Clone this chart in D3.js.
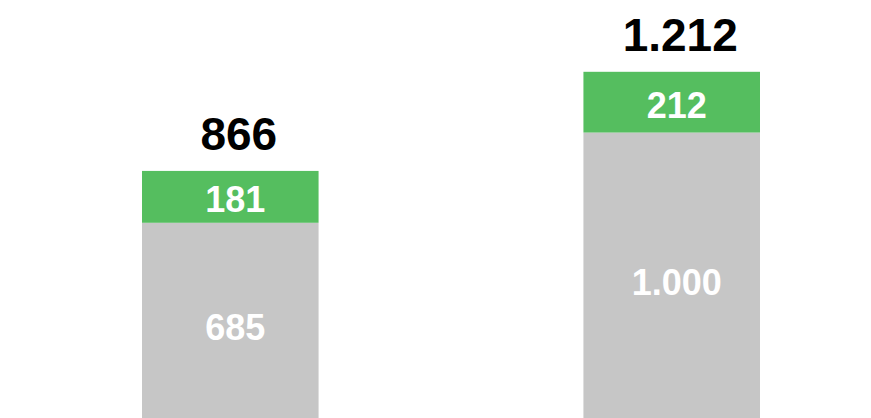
<!DOCTYPE html>
<html>
<head>
<meta charset="utf-8">
<script src="https://cdn.jsdelivr.net/npm/d3@7"></script>
<style>
  html, body { margin: 0; padding: 0; background: #fff; }
  svg { display: block; }
  text { font-family: "Liberation Sans", Arial, sans-serif; font-weight: bold; }
</style>
</head>
<body>
<div class="chart"></div>
<script>
// data
const categories = ["A", "B"]
const baseValues = [685, 1000]
const extraValues = [181, 212]

const width = 871
const height = 418

// german style numbers: 1.212
const locale = d3.formatLocale({ decimal: ",", thousands: ".", grouping: [3], currency: ["", " €"] })
const fmt = locale.format(",d")

const svg = d3.select(".chart")
  .append("svg")
  .attr("width", width)
  .attr("height", height)

const x = d3.scaleBand()
  .domain(categories)
  .range([142, 760])
  .paddingInner(0.6)
  .paddingOuter(0)

const y = d3.scaleLinear()
  .domain([0, 1212])
  .range([419, 71.8])

const rows = categories.map((c, i) => ({
  cat: c,
  base: baseValues[i],
  extra: extraValues[i],
  total: baseValues[i] + extraValues[i]
}))

const bars = svg.selectAll("g.bar")
  .data(rows)
  .join("g")
  .attr("class", "bar")

// grey part
bars.append("rect")
  .attr("x", d => x(d.cat))
  .attr("width", x.bandwidth())
  .attr("y", d => y(d.base))
  .attr("height", d => y(0) - y(d.base))
  .attr("fill", "#c6c6c6")

// green part
bars.append("rect")
  .attr("x", d => x(d.cat))
  .attr("width", x.bandwidth())
  .attr("y", d => y(d.total))
  .attr("height", d => y(d.base) - y(d.total))
  .attr("fill", "#55be5f")

// labels inside segments (slightly right of centre, like the original)
bars.append("text")
  .attr("x", d => x(d.cat) + x.bandwidth() / 2 + 5)
  .attr("y", d => (y(0) + y(d.base)) / 2 + 19)
  .attr("text-anchor", "middle")
  .attr("font-size", 36)
  .attr("fill", "#fff")
  .text(d => fmt(d.base))

bars.append("text")
  .attr("x", d => x(d.cat) + x.bandwidth() / 2 + 5)
  .attr("y", d => (y(d.base) + y(d.total)) / 2 + 15.5)
  .attr("text-anchor", "middle")
  .attr("font-size", 36)
  .attr("fill", "#fff")
  .text(d => fmt(d.extra))

// totals
bars.append("text")
  .attr("x", d => x(d.cat) + x.bandwidth() / 2 + 8.5)
  .attr("y", d => y(d.total) - 20.5)
  .attr("text-anchor", "middle")
  .attr("font-size", 46)
  .attr("fill", "#000")
  .text(d => fmt(d.total))
</script>
</body>
</html>
